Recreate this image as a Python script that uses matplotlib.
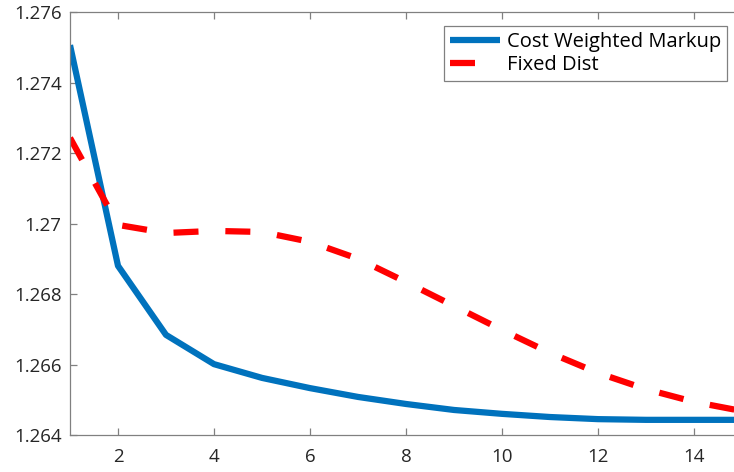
import numpy as np
import matplotlib
matplotlib.use("Agg")
import matplotlib.pyplot as plt

x = np.arange(1, 16)
cost_weighted = [1.27506, 1.26880, 1.26684, 1.26601, 1.26562, 1.26533, 1.26508,
                 1.26488, 1.26471, 1.26460, 1.26451, 1.26445, 1.26443, 1.26443, 1.26443]
fixed_dist = [1.27243, 1.26996, 1.26973, 1.26979, 1.26976, 1.26948, 1.26900,
              1.26834, 1.26766, 1.26698, 1.26633, 1.26576, 1.26530, 1.26494, 1.26468]
yticks = [1.264, 1.266, 1.268, 1.27, 1.272, 1.274, 1.276]
ytick_labels = ['1.264', '1.266', '1.268', '1.27', '1.272', '1.274', '1.276']
xticks = [2, 4, 6, 8, 10, 12, 14]

plt.rcParams['font.family'] = ['Open Sans', 'DejaVu Sans']

fig = plt.figure(figsize=(7.34, 4.72), dpi=100)
ax = fig.add_axes([70 / 734, 1 - 435 / 472, 672 / 734, 423 / 472])

ax.plot(x, cost_weighted, color='#0072BD', lw=4.5, label='Cost Weighted Markup',
        solid_capstyle='butt')
ax.plot(x, fixed_dist, color='#FF0000', lw=4.5, dashes=(4, 4.3), label='Fixed Dist',
        dash_capstyle='butt')

ax.set_xlim(1, 15)
ax.set_ylim(1.264, 1.276)
ax.set_xticks(xticks)
ax.set_yticks(yticks)
ax.set_yticklabels(ytick_labels)

gray = '#808080'
for s in ax.spines.values():
    s.set_color(gray)
    s.set_linewidth(0.9)
ax.tick_params(direction='in', length=5, width=0.9, color=gray, labelsize=13.5,
               labelcolor='#262626', top=True, right=True)
ax.tick_params(axis='x', pad=9)
ax.tick_params(axis='y', pad=6)

leg = ax.legend(loc='upper right', bbox_to_anchor=(0.9777, 0.967),
                fontsize=14.5, fancybox=False, framealpha=1, edgecolor=gray,
                handlelength=2.45, borderpad=0.3, labelspacing=0.15,
                handletextpad=0.35, borderaxespad=0)
leg.get_frame().set_linewidth(0.9)

fig.savefig("out.png", dpi=100)
